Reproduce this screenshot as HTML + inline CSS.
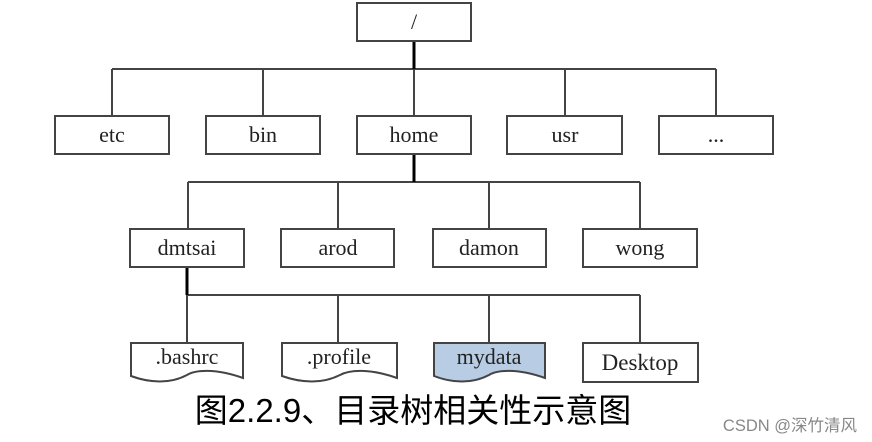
<!DOCTYPE html>
<html><head><meta charset="utf-8"><style>
html,body{margin:0;padding:0;background:#fff;width:872px;height:442px;overflow:hidden}
</style></head><body>
<svg width="872" height="442" xmlns="http://www.w3.org/2000/svg" style="position:absolute;left:0;top:0">
<g fill="none" stroke="#444" stroke-width="2">
<line x1="112" y1="69" x2="716" y2="69"/>
<line x1="112" y1="69" x2="112" y2="116"/>
<line x1="263" y1="69" x2="263" y2="116"/>
<line x1="414" y1="69" x2="414" y2="116"/>
<line x1="565" y1="69" x2="565" y2="116"/>
<line x1="716" y1="69" x2="716" y2="116"/>
<line x1="188" y1="182" x2="640" y2="182"/>
<line x1="188" y1="182" x2="188" y2="229"/>
<line x1="338" y1="182" x2="338" y2="229"/>
<line x1="489" y1="182" x2="489" y2="229"/>
<line x1="640" y1="182" x2="640" y2="229"/>
<line x1="187" y1="295" x2="640" y2="295"/>
<line x1="187" y1="295" x2="187" y2="343"/>
<line x1="338" y1="295" x2="338" y2="343"/>
<line x1="489" y1="295" x2="489" y2="343"/>
<line x1="640" y1="295" x2="640" y2="343"/>
</g>
<g stroke="#000" stroke-width="3">
<line x1="414" y1="41" x2="414" y2="69"/>
<line x1="414" y1="154" x2="414" y2="182"/>
<line x1="187" y1="267" x2="187" y2="295"/>
</g>
<g fill="#fff" stroke="#444" stroke-width="2">
<rect x="357" y="3" width="114" height="38"/>
<rect x="55" y="116" width="114" height="38"/>
<rect x="206" y="116" width="114" height="38"/>
<rect x="357" y="116" width="114" height="38"/>
<rect x="507" y="116" width="115" height="38"/>
<rect x="659" y="116" width="114" height="38"/>
<rect x="130" y="229" width="114" height="38"/>
<rect x="281" y="229" width="113" height="38"/>
<rect x="433" y="229" width="113" height="38"/>
<rect x="583" y="229" width="114" height="38"/>
<path d="M131 343 H243 V378 C215 368,195 370,187 375 C170 384,150 383,131 376 Z"/>
<path d="M282 343 H397 V378 C369 368,349 370,340 375 C322 384,302 383,282 376 Z"/>
<path d="M434 343 H545 V378 C517 368,497 370,489 375 C472 384,452 383,434 376 Z" fill="#b8cce4"/>
<rect x="583" y="343" width="115" height="39"/>
</g>
<g font-family="Liberation Serif, serif" font-size="22" fill="#222" text-anchor="middle">
<text x="414" y="29">/</text>
<text x="112" y="142">etc</text>
<text x="263" y="142">bin</text>
<text x="414" y="142">home</text>
<text x="565" y="142">usr</text>
<text x="716" y="142">...</text>
<text x="187" y="255">dmtsai</text>
<text x="338" y="255">arod</text>
<text x="489" y="255">damon</text>
<text x="640" y="255">wong</text>
<text x="187" y="364">.bashrc</text>
<text x="339" y="364">.profile</text>
<text x="489" y="364">mydata</text>
<text x="640" y="370" font-size="23">Desktop</text>
</g>
<text x="413" y="422" text-anchor="middle" font-family="Liberation Sans, Noto Sans CJK SC, sans-serif" font-size="33" fill="#000">图2.2.9、目录树相关性示意图</text>
<text x="857" y="431" text-anchor="end" font-family="Liberation Sans, Noto Sans CJK SC, sans-serif" font-size="16.5" fill="#888">CSDN @深竹清风</text>
</svg>
</body></html>
